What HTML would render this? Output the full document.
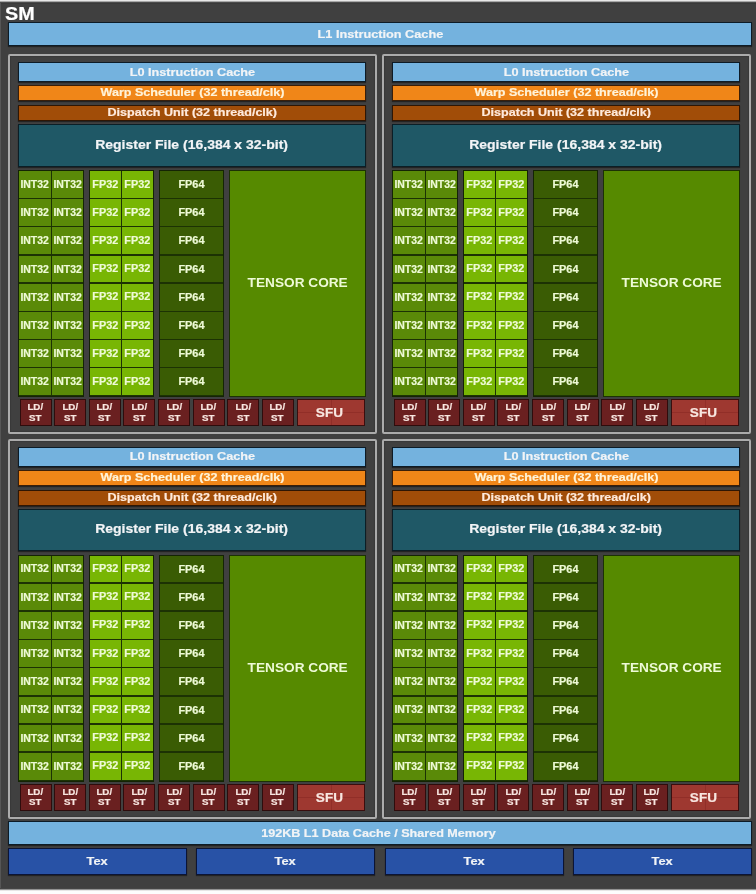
<!DOCTYPE html>
<html><head><meta charset="utf-8"><title>SM</title><style>
*{margin:0;padding:0;box-sizing:border-box}
html,body{width:756px;height:894px;overflow:hidden;background:#404040}
body{position:relative;font-family:"Liberation Sans",Arial,sans-serif;font-weight:bold}
div{position:absolute}
#w{left:0;top:0;width:756px;height:894px;background:#404040}
.ledge{left:0;top:3px;width:1px;height:885px;background:#565656}
.topstrip{left:0;top:0;width:756px;height:4px;background:linear-gradient(to bottom,#e8e8e8 0,#e8e8e8 1px,#a8a8a8 1px,#a8a8a8 2px,#4c4c4c 2px,#4c4c4c 3px,#3a3a3a 3px)}
.botstrip{left:0;top:888px;width:756px;height:6px;background:linear-gradient(to bottom,#454545 0,#454545 1px,#929292 1px,#929292 2px,#e6e6e6 2px,#e6e6e6 3px,#fdfdfd 3px)}
.pb{border:2px solid #ababab;border-radius:2px;box-shadow:inset 0 0 1px 1px rgba(0,0,0,.12)}
.bar{border:1px solid #0d1b26;box-shadow:0 1px 1px rgba(0,0,0,.45)}
.l1{background:#74b2de}
.l0{background:#74b2de}
.wp{background:#f08618;border-color:#3a1e08}
.dp{background:#a14d08;border-color:#2e1604}
.rf{background:#1f5866;border-color:#0b1e26}
.tx{background:#2852a6;border-color:#0b1436}
.grp{background:#1c3204;border:1px solid #142404}
.c{}
.ci{background:#5a8a08}
.cf{background:#78b604}
.cd{background:#3a5c04}
.tc{background:#568a00;border:1px solid #1c3204}
.ls{background:#6a2020;border:1px solid #2e0c0c}
.sfl{background:rgba(120,30,25,.35)}
.sfu{background:#9e3830;border:1px solid #3a0e0e}
.t{-webkit-text-stroke:0.2px currentColor;display:flex;align-items:center;justify-content:center;white-space:nowrap}
.t span{display:inline-block;text-align:center}
.f11{font-size:11px}
.f13{font-size:13px}
.f10{font-size:10px}
.f95{font-size:9.5px}
.f9{font-size:9px;line-height:10.5px}
.f125{font-size:12.5px}
.cw{color:#f2f4f6}
.cg{color:#eefad6}
.cwp{color:#fff3d8}
.cdp{color:#ffeadc}
.cp{color:#f8e6e0}
.nst{-webkit-text-stroke:0}
.sm{font-size:19px;color:#fff}
</style></head><body>
<div id="w">
<div class="topstrip"></div><div class="ledge"></div>
<div class="botstrip"></div>
<div class="t sm" style="left:4.8px;top:2.6px;width:40px;height:22px;justify-content:flex-start"><span style="transform:scaleX(1.04);transform-origin:0 50%">SM</span></div>
<div class="bar l1" style="left:8px;top:21.5px;width:744px;height:24px;"></div>
<div class="t f11 cw" style="left:8px;top:21.5px;width:744px;height:24px"><span style="transform:scaleX(1.155)">L1 Instruction Cache</span></div>
<div class="pb" style="left:8px;top:54px;width:369px;height:380px;"></div>
<div class="bar l0" style="left:18px;top:62px;width:348px;height:20px;"></div>
<div class="t f11 cw" style="left:18px;top:62px;width:348px;height:19px"><span style="transform:scaleX(1.152)">L0 Instruction Cache</span></div>
<div class="bar wp" style="left:18px;top:85px;width:348px;height:16px;"></div>
<div class="t f11 cwp" style="left:18px;top:84.3px;width:348px;height:16px"><span style="transform:scaleX(1.143)">Warp Scheduler (32 thread/clk)</span></div>
<div class="bar dp" style="left:18px;top:105px;width:348px;height:16px;"></div>
<div class="t f11 cdp" style="left:18px;top:104.3px;width:348px;height:16px"><span style="transform:scaleX(1.141)">Dispatch Unit (32 thread/clk)</span></div>
<div class="bar rf" style="left:18px;top:124px;width:348px;height:42.6px;"></div>
<div class="t f13 cw" style="left:18px;top:123px;width:348px;height:42.6px"><span style="transform:scaleX(1.076)">Register File (16,384 x 32-bit)</span></div>
<div class="grp gi" style="left:18px;top:170px;width:66px;height:227px;"></div>
<div class="grp gf" style="left:89px;top:170px;width:65px;height:227px;"></div>
<div class="grp gd" style="left:159px;top:170px;width:65px;height:227px;"></div>
<div class="c ci" style="left:19px;top:171.0px;width:32px;height:26.8px;"></div>
<div class="t f10 cg" style="left:19px;top:171.1px;width:32px;height:26.8px"><span style="transform:scaleX(1.045);font-size:10px">INT32</span></div>
<div class="c ci" style="left:52px;top:171.0px;width:31px;height:26.8px;"></div>
<div class="t f10 cg" style="left:52px;top:171.1px;width:31px;height:26.8px"><span style="transform:scaleX(1.045);font-size:10px">INT32</span></div>
<div class="c cf" style="left:90px;top:171.0px;width:31px;height:26.8px;"></div>
<div class="t f10 cg" style="left:89.5px;top:170.7px;width:31px;height:26.8px"><span style="transform:scaleX(1.055);font-size:10.3px">FP32</span></div>
<div class="c cf" style="left:122px;top:171.0px;width:31px;height:26.8px;"></div>
<div class="t f10 cg" style="left:121.5px;top:170.7px;width:31px;height:26.8px"><span style="transform:scaleX(1.055);font-size:10.3px">FP32</span></div>
<div class="c cd" style="left:160px;top:171.0px;width:63px;height:26.8px;"></div>
<div class="t f10 cg" style="left:159.5px;top:171.2px;width:63px;height:26.8px"><span style="transform:scaleX(1.05);font-size:10.4px">FP64</span></div>
<div class="c ci" style="left:19px;top:199.2px;width:32px;height:26.8px;"></div>
<div class="t f10 cg" style="left:19px;top:199.3px;width:32px;height:26.8px"><span style="transform:scaleX(1.045);font-size:10px">INT32</span></div>
<div class="c ci" style="left:52px;top:199.2px;width:31px;height:26.8px;"></div>
<div class="t f10 cg" style="left:52px;top:199.3px;width:31px;height:26.8px"><span style="transform:scaleX(1.045);font-size:10px">INT32</span></div>
<div class="c cf" style="left:90px;top:199.2px;width:31px;height:26.8px;"></div>
<div class="t f10 cg" style="left:89.5px;top:198.9px;width:31px;height:26.8px"><span style="transform:scaleX(1.055);font-size:10.3px">FP32</span></div>
<div class="c cf" style="left:122px;top:199.2px;width:31px;height:26.8px;"></div>
<div class="t f10 cg" style="left:121.5px;top:198.9px;width:31px;height:26.8px"><span style="transform:scaleX(1.055);font-size:10.3px">FP32</span></div>
<div class="c cd" style="left:160px;top:199.2px;width:63px;height:26.8px;"></div>
<div class="t f10 cg" style="left:159.5px;top:199.4px;width:63px;height:26.8px"><span style="transform:scaleX(1.05);font-size:10.4px">FP64</span></div>
<div class="c ci" style="left:19px;top:227.4px;width:32px;height:26.8px;"></div>
<div class="t f10 cg" style="left:19px;top:227.5px;width:32px;height:26.8px"><span style="transform:scaleX(1.045);font-size:10px">INT32</span></div>
<div class="c ci" style="left:52px;top:227.4px;width:31px;height:26.8px;"></div>
<div class="t f10 cg" style="left:52px;top:227.5px;width:31px;height:26.8px"><span style="transform:scaleX(1.045);font-size:10px">INT32</span></div>
<div class="c cf" style="left:90px;top:227.4px;width:31px;height:26.8px;"></div>
<div class="t f10 cg" style="left:89.5px;top:227.1px;width:31px;height:26.8px"><span style="transform:scaleX(1.055);font-size:10.3px">FP32</span></div>
<div class="c cf" style="left:122px;top:227.4px;width:31px;height:26.8px;"></div>
<div class="t f10 cg" style="left:121.5px;top:227.1px;width:31px;height:26.8px"><span style="transform:scaleX(1.055);font-size:10.3px">FP32</span></div>
<div class="c cd" style="left:160px;top:227.4px;width:63px;height:26.8px;"></div>
<div class="t f10 cg" style="left:159.5px;top:227.6px;width:63px;height:26.8px"><span style="transform:scaleX(1.05);font-size:10.4px">FP64</span></div>
<div class="c ci" style="left:19px;top:255.6px;width:32px;height:26.8px;"></div>
<div class="t f10 cg" style="left:19px;top:255.7px;width:32px;height:26.8px"><span style="transform:scaleX(1.045);font-size:10px">INT32</span></div>
<div class="c ci" style="left:52px;top:255.6px;width:31px;height:26.8px;"></div>
<div class="t f10 cg" style="left:52px;top:255.7px;width:31px;height:26.8px"><span style="transform:scaleX(1.045);font-size:10px">INT32</span></div>
<div class="c cf" style="left:90px;top:255.6px;width:31px;height:26.8px;"></div>
<div class="t f10 cg" style="left:89.5px;top:255.3px;width:31px;height:26.8px"><span style="transform:scaleX(1.055);font-size:10.3px">FP32</span></div>
<div class="c cf" style="left:122px;top:255.6px;width:31px;height:26.8px;"></div>
<div class="t f10 cg" style="left:121.5px;top:255.3px;width:31px;height:26.8px"><span style="transform:scaleX(1.055);font-size:10.3px">FP32</span></div>
<div class="c cd" style="left:160px;top:255.6px;width:63px;height:26.8px;"></div>
<div class="t f10 cg" style="left:159.5px;top:255.8px;width:63px;height:26.8px"><span style="transform:scaleX(1.05);font-size:10.4px">FP64</span></div>
<div class="c ci" style="left:19px;top:283.8px;width:32px;height:26.8px;"></div>
<div class="t f10 cg" style="left:19px;top:283.9px;width:32px;height:26.8px"><span style="transform:scaleX(1.045);font-size:10px">INT32</span></div>
<div class="c ci" style="left:52px;top:283.8px;width:31px;height:26.8px;"></div>
<div class="t f10 cg" style="left:52px;top:283.9px;width:31px;height:26.8px"><span style="transform:scaleX(1.045);font-size:10px">INT32</span></div>
<div class="c cf" style="left:90px;top:283.8px;width:31px;height:26.8px;"></div>
<div class="t f10 cg" style="left:89.5px;top:283.5px;width:31px;height:26.8px"><span style="transform:scaleX(1.055);font-size:10.3px">FP32</span></div>
<div class="c cf" style="left:122px;top:283.8px;width:31px;height:26.8px;"></div>
<div class="t f10 cg" style="left:121.5px;top:283.5px;width:31px;height:26.8px"><span style="transform:scaleX(1.055);font-size:10.3px">FP32</span></div>
<div class="c cd" style="left:160px;top:283.8px;width:63px;height:26.8px;"></div>
<div class="t f10 cg" style="left:159.5px;top:284.0px;width:63px;height:26.8px"><span style="transform:scaleX(1.05);font-size:10.4px">FP64</span></div>
<div class="c ci" style="left:19px;top:312.0px;width:32px;height:26.8px;"></div>
<div class="t f10 cg" style="left:19px;top:312.1px;width:32px;height:26.8px"><span style="transform:scaleX(1.045);font-size:10px">INT32</span></div>
<div class="c ci" style="left:52px;top:312.0px;width:31px;height:26.8px;"></div>
<div class="t f10 cg" style="left:52px;top:312.1px;width:31px;height:26.8px"><span style="transform:scaleX(1.045);font-size:10px">INT32</span></div>
<div class="c cf" style="left:90px;top:312.0px;width:31px;height:26.8px;"></div>
<div class="t f10 cg" style="left:89.5px;top:311.7px;width:31px;height:26.8px"><span style="transform:scaleX(1.055);font-size:10.3px">FP32</span></div>
<div class="c cf" style="left:122px;top:312.0px;width:31px;height:26.8px;"></div>
<div class="t f10 cg" style="left:121.5px;top:311.7px;width:31px;height:26.8px"><span style="transform:scaleX(1.055);font-size:10.3px">FP32</span></div>
<div class="c cd" style="left:160px;top:312.0px;width:63px;height:26.8px;"></div>
<div class="t f10 cg" style="left:159.5px;top:312.2px;width:63px;height:26.8px"><span style="transform:scaleX(1.05);font-size:10.4px">FP64</span></div>
<div class="c ci" style="left:19px;top:340.2px;width:32px;height:26.8px;"></div>
<div class="t f10 cg" style="left:19px;top:340.3px;width:32px;height:26.8px"><span style="transform:scaleX(1.045);font-size:10px">INT32</span></div>
<div class="c ci" style="left:52px;top:340.2px;width:31px;height:26.8px;"></div>
<div class="t f10 cg" style="left:52px;top:340.3px;width:31px;height:26.8px"><span style="transform:scaleX(1.045);font-size:10px">INT32</span></div>
<div class="c cf" style="left:90px;top:340.2px;width:31px;height:26.8px;"></div>
<div class="t f10 cg" style="left:89.5px;top:339.9px;width:31px;height:26.8px"><span style="transform:scaleX(1.055);font-size:10.3px">FP32</span></div>
<div class="c cf" style="left:122px;top:340.2px;width:31px;height:26.8px;"></div>
<div class="t f10 cg" style="left:121.5px;top:339.9px;width:31px;height:26.8px"><span style="transform:scaleX(1.055);font-size:10.3px">FP32</span></div>
<div class="c cd" style="left:160px;top:340.2px;width:63px;height:26.8px;"></div>
<div class="t f10 cg" style="left:159.5px;top:340.4px;width:63px;height:26.8px"><span style="transform:scaleX(1.05);font-size:10.4px">FP64</span></div>
<div class="c ci" style="left:19px;top:368.4px;width:32px;height:26.8px;"></div>
<div class="t f10 cg" style="left:19px;top:368.5px;width:32px;height:26.8px"><span style="transform:scaleX(1.045);font-size:10px">INT32</span></div>
<div class="c ci" style="left:52px;top:368.4px;width:31px;height:26.8px;"></div>
<div class="t f10 cg" style="left:52px;top:368.5px;width:31px;height:26.8px"><span style="transform:scaleX(1.045);font-size:10px">INT32</span></div>
<div class="c cf" style="left:90px;top:368.4px;width:31px;height:26.8px;"></div>
<div class="t f10 cg" style="left:89.5px;top:368.1px;width:31px;height:26.8px"><span style="transform:scaleX(1.055);font-size:10.3px">FP32</span></div>
<div class="c cf" style="left:122px;top:368.4px;width:31px;height:26.8px;"></div>
<div class="t f10 cg" style="left:121.5px;top:368.1px;width:31px;height:26.8px"><span style="transform:scaleX(1.055);font-size:10.3px">FP32</span></div>
<div class="c cd" style="left:160px;top:368.4px;width:63px;height:26.8px;"></div>
<div class="t f10 cg" style="left:159.5px;top:368.6px;width:63px;height:26.8px"><span style="transform:scaleX(1.05);font-size:10.4px">FP64</span></div>
<div class="tc" style="left:229px;top:170px;width:137px;height:227px;"></div>
<div class="t f13 cg nst" style="left:229px;top:169px;width:137px;height:227px"><span style="transform:scaleX(1.05)">TENSOR CORE</span></div>
<div class="ls" style="left:19.5px;top:399px;width:32px;height:27px;"></div>
<div class="t f9 cp ls2" style="left:19.5px;top:399px;width:32px;height:27px"><span style="transform:scaleX(1.08)">LD/<br>ST</span></div>
<div class="ls" style="left:54.1px;top:399px;width:32px;height:27px;"></div>
<div class="t f9 cp ls2" style="left:54.1px;top:399px;width:32px;height:27px"><span style="transform:scaleX(1.08)">LD/<br>ST</span></div>
<div class="ls" style="left:88.7px;top:399px;width:32px;height:27px;"></div>
<div class="t f9 cp ls2" style="left:88.7px;top:399px;width:32px;height:27px"><span style="transform:scaleX(1.08)">LD/<br>ST</span></div>
<div class="ls" style="left:123.3px;top:399px;width:32px;height:27px;"></div>
<div class="t f9 cp ls2" style="left:123.3px;top:399px;width:32px;height:27px"><span style="transform:scaleX(1.08)">LD/<br>ST</span></div>
<div class="ls" style="left:157.9px;top:399px;width:32px;height:27px;"></div>
<div class="t f9 cp ls2" style="left:157.9px;top:399px;width:32px;height:27px"><span style="transform:scaleX(1.08)">LD/<br>ST</span></div>
<div class="ls" style="left:192.5px;top:399px;width:32px;height:27px;"></div>
<div class="t f9 cp ls2" style="left:192.5px;top:399px;width:32px;height:27px"><span style="transform:scaleX(1.08)">LD/<br>ST</span></div>
<div class="ls" style="left:227.1px;top:399px;width:32px;height:27px;"></div>
<div class="t f9 cp ls2" style="left:227.1px;top:399px;width:32px;height:27px"><span style="transform:scaleX(1.08)">LD/<br>ST</span></div>
<div class="ls" style="left:261.7px;top:399px;width:32px;height:27px;"></div>
<div class="t f9 cp ls2" style="left:261.7px;top:399px;width:32px;height:27px"><span style="transform:scaleX(1.08)">LD/<br>ST</span></div>
<div class="sfu" style="left:296.5px;top:399px;width:68px;height:27px;"></div>
<div class="sfl" style="left:331px;top:400px;width:1px;height:25px;"></div>
<div class="sfl" style="left:297.5px;top:412px;width:66px;height:1px;"></div>
<div class="t f13 cp" style="left:295.0px;top:399px;width:69px;height:27px"><span style="transform:scaleX(1.01);font-size:13.4px">SFU</span></div>
<div class="pb" style="left:382px;top:54px;width:369px;height:380px;"></div>
<div class="bar l0" style="left:392px;top:62px;width:348px;height:20px;"></div>
<div class="t f11 cw" style="left:392px;top:62px;width:348px;height:19px"><span style="transform:scaleX(1.152)">L0 Instruction Cache</span></div>
<div class="bar wp" style="left:392px;top:85px;width:348px;height:16px;"></div>
<div class="t f11 cwp" style="left:392px;top:84.3px;width:348px;height:16px"><span style="transform:scaleX(1.143)">Warp Scheduler (32 thread/clk)</span></div>
<div class="bar dp" style="left:392px;top:105px;width:348px;height:16px;"></div>
<div class="t f11 cdp" style="left:392px;top:104.3px;width:348px;height:16px"><span style="transform:scaleX(1.141)">Dispatch Unit (32 thread/clk)</span></div>
<div class="bar rf" style="left:392px;top:124px;width:348px;height:42.6px;"></div>
<div class="t f13 cw" style="left:392px;top:123px;width:348px;height:42.6px"><span style="transform:scaleX(1.076)">Register File (16,384 x 32-bit)</span></div>
<div class="grp gi" style="left:392px;top:170px;width:66px;height:227px;"></div>
<div class="grp gf" style="left:463px;top:170px;width:65px;height:227px;"></div>
<div class="grp gd" style="left:533px;top:170px;width:65px;height:227px;"></div>
<div class="c ci" style="left:393px;top:171.0px;width:32px;height:26.8px;"></div>
<div class="t f10 cg" style="left:393px;top:171.1px;width:32px;height:26.8px"><span style="transform:scaleX(1.045);font-size:10px">INT32</span></div>
<div class="c ci" style="left:426px;top:171.0px;width:31px;height:26.8px;"></div>
<div class="t f10 cg" style="left:426px;top:171.1px;width:31px;height:26.8px"><span style="transform:scaleX(1.045);font-size:10px">INT32</span></div>
<div class="c cf" style="left:464px;top:171.0px;width:31px;height:26.8px;"></div>
<div class="t f10 cg" style="left:463.5px;top:170.7px;width:31px;height:26.8px"><span style="transform:scaleX(1.055);font-size:10.3px">FP32</span></div>
<div class="c cf" style="left:496px;top:171.0px;width:31px;height:26.8px;"></div>
<div class="t f10 cg" style="left:495.5px;top:170.7px;width:31px;height:26.8px"><span style="transform:scaleX(1.055);font-size:10.3px">FP32</span></div>
<div class="c cd" style="left:534px;top:171.0px;width:63px;height:26.8px;"></div>
<div class="t f10 cg" style="left:533.5px;top:171.2px;width:63px;height:26.8px"><span style="transform:scaleX(1.05);font-size:10.4px">FP64</span></div>
<div class="c ci" style="left:393px;top:199.2px;width:32px;height:26.8px;"></div>
<div class="t f10 cg" style="left:393px;top:199.3px;width:32px;height:26.8px"><span style="transform:scaleX(1.045);font-size:10px">INT32</span></div>
<div class="c ci" style="left:426px;top:199.2px;width:31px;height:26.8px;"></div>
<div class="t f10 cg" style="left:426px;top:199.3px;width:31px;height:26.8px"><span style="transform:scaleX(1.045);font-size:10px">INT32</span></div>
<div class="c cf" style="left:464px;top:199.2px;width:31px;height:26.8px;"></div>
<div class="t f10 cg" style="left:463.5px;top:198.9px;width:31px;height:26.8px"><span style="transform:scaleX(1.055);font-size:10.3px">FP32</span></div>
<div class="c cf" style="left:496px;top:199.2px;width:31px;height:26.8px;"></div>
<div class="t f10 cg" style="left:495.5px;top:198.9px;width:31px;height:26.8px"><span style="transform:scaleX(1.055);font-size:10.3px">FP32</span></div>
<div class="c cd" style="left:534px;top:199.2px;width:63px;height:26.8px;"></div>
<div class="t f10 cg" style="left:533.5px;top:199.4px;width:63px;height:26.8px"><span style="transform:scaleX(1.05);font-size:10.4px">FP64</span></div>
<div class="c ci" style="left:393px;top:227.4px;width:32px;height:26.8px;"></div>
<div class="t f10 cg" style="left:393px;top:227.5px;width:32px;height:26.8px"><span style="transform:scaleX(1.045);font-size:10px">INT32</span></div>
<div class="c ci" style="left:426px;top:227.4px;width:31px;height:26.8px;"></div>
<div class="t f10 cg" style="left:426px;top:227.5px;width:31px;height:26.8px"><span style="transform:scaleX(1.045);font-size:10px">INT32</span></div>
<div class="c cf" style="left:464px;top:227.4px;width:31px;height:26.8px;"></div>
<div class="t f10 cg" style="left:463.5px;top:227.1px;width:31px;height:26.8px"><span style="transform:scaleX(1.055);font-size:10.3px">FP32</span></div>
<div class="c cf" style="left:496px;top:227.4px;width:31px;height:26.8px;"></div>
<div class="t f10 cg" style="left:495.5px;top:227.1px;width:31px;height:26.8px"><span style="transform:scaleX(1.055);font-size:10.3px">FP32</span></div>
<div class="c cd" style="left:534px;top:227.4px;width:63px;height:26.8px;"></div>
<div class="t f10 cg" style="left:533.5px;top:227.6px;width:63px;height:26.8px"><span style="transform:scaleX(1.05);font-size:10.4px">FP64</span></div>
<div class="c ci" style="left:393px;top:255.6px;width:32px;height:26.8px;"></div>
<div class="t f10 cg" style="left:393px;top:255.7px;width:32px;height:26.8px"><span style="transform:scaleX(1.045);font-size:10px">INT32</span></div>
<div class="c ci" style="left:426px;top:255.6px;width:31px;height:26.8px;"></div>
<div class="t f10 cg" style="left:426px;top:255.7px;width:31px;height:26.8px"><span style="transform:scaleX(1.045);font-size:10px">INT32</span></div>
<div class="c cf" style="left:464px;top:255.6px;width:31px;height:26.8px;"></div>
<div class="t f10 cg" style="left:463.5px;top:255.3px;width:31px;height:26.8px"><span style="transform:scaleX(1.055);font-size:10.3px">FP32</span></div>
<div class="c cf" style="left:496px;top:255.6px;width:31px;height:26.8px;"></div>
<div class="t f10 cg" style="left:495.5px;top:255.3px;width:31px;height:26.8px"><span style="transform:scaleX(1.055);font-size:10.3px">FP32</span></div>
<div class="c cd" style="left:534px;top:255.6px;width:63px;height:26.8px;"></div>
<div class="t f10 cg" style="left:533.5px;top:255.8px;width:63px;height:26.8px"><span style="transform:scaleX(1.05);font-size:10.4px">FP64</span></div>
<div class="c ci" style="left:393px;top:283.8px;width:32px;height:26.8px;"></div>
<div class="t f10 cg" style="left:393px;top:283.9px;width:32px;height:26.8px"><span style="transform:scaleX(1.045);font-size:10px">INT32</span></div>
<div class="c ci" style="left:426px;top:283.8px;width:31px;height:26.8px;"></div>
<div class="t f10 cg" style="left:426px;top:283.9px;width:31px;height:26.8px"><span style="transform:scaleX(1.045);font-size:10px">INT32</span></div>
<div class="c cf" style="left:464px;top:283.8px;width:31px;height:26.8px;"></div>
<div class="t f10 cg" style="left:463.5px;top:283.5px;width:31px;height:26.8px"><span style="transform:scaleX(1.055);font-size:10.3px">FP32</span></div>
<div class="c cf" style="left:496px;top:283.8px;width:31px;height:26.8px;"></div>
<div class="t f10 cg" style="left:495.5px;top:283.5px;width:31px;height:26.8px"><span style="transform:scaleX(1.055);font-size:10.3px">FP32</span></div>
<div class="c cd" style="left:534px;top:283.8px;width:63px;height:26.8px;"></div>
<div class="t f10 cg" style="left:533.5px;top:284.0px;width:63px;height:26.8px"><span style="transform:scaleX(1.05);font-size:10.4px">FP64</span></div>
<div class="c ci" style="left:393px;top:312.0px;width:32px;height:26.8px;"></div>
<div class="t f10 cg" style="left:393px;top:312.1px;width:32px;height:26.8px"><span style="transform:scaleX(1.045);font-size:10px">INT32</span></div>
<div class="c ci" style="left:426px;top:312.0px;width:31px;height:26.8px;"></div>
<div class="t f10 cg" style="left:426px;top:312.1px;width:31px;height:26.8px"><span style="transform:scaleX(1.045);font-size:10px">INT32</span></div>
<div class="c cf" style="left:464px;top:312.0px;width:31px;height:26.8px;"></div>
<div class="t f10 cg" style="left:463.5px;top:311.7px;width:31px;height:26.8px"><span style="transform:scaleX(1.055);font-size:10.3px">FP32</span></div>
<div class="c cf" style="left:496px;top:312.0px;width:31px;height:26.8px;"></div>
<div class="t f10 cg" style="left:495.5px;top:311.7px;width:31px;height:26.8px"><span style="transform:scaleX(1.055);font-size:10.3px">FP32</span></div>
<div class="c cd" style="left:534px;top:312.0px;width:63px;height:26.8px;"></div>
<div class="t f10 cg" style="left:533.5px;top:312.2px;width:63px;height:26.8px"><span style="transform:scaleX(1.05);font-size:10.4px">FP64</span></div>
<div class="c ci" style="left:393px;top:340.2px;width:32px;height:26.8px;"></div>
<div class="t f10 cg" style="left:393px;top:340.3px;width:32px;height:26.8px"><span style="transform:scaleX(1.045);font-size:10px">INT32</span></div>
<div class="c ci" style="left:426px;top:340.2px;width:31px;height:26.8px;"></div>
<div class="t f10 cg" style="left:426px;top:340.3px;width:31px;height:26.8px"><span style="transform:scaleX(1.045);font-size:10px">INT32</span></div>
<div class="c cf" style="left:464px;top:340.2px;width:31px;height:26.8px;"></div>
<div class="t f10 cg" style="left:463.5px;top:339.9px;width:31px;height:26.8px"><span style="transform:scaleX(1.055);font-size:10.3px">FP32</span></div>
<div class="c cf" style="left:496px;top:340.2px;width:31px;height:26.8px;"></div>
<div class="t f10 cg" style="left:495.5px;top:339.9px;width:31px;height:26.8px"><span style="transform:scaleX(1.055);font-size:10.3px">FP32</span></div>
<div class="c cd" style="left:534px;top:340.2px;width:63px;height:26.8px;"></div>
<div class="t f10 cg" style="left:533.5px;top:340.4px;width:63px;height:26.8px"><span style="transform:scaleX(1.05);font-size:10.4px">FP64</span></div>
<div class="c ci" style="left:393px;top:368.4px;width:32px;height:26.8px;"></div>
<div class="t f10 cg" style="left:393px;top:368.5px;width:32px;height:26.8px"><span style="transform:scaleX(1.045);font-size:10px">INT32</span></div>
<div class="c ci" style="left:426px;top:368.4px;width:31px;height:26.8px;"></div>
<div class="t f10 cg" style="left:426px;top:368.5px;width:31px;height:26.8px"><span style="transform:scaleX(1.045);font-size:10px">INT32</span></div>
<div class="c cf" style="left:464px;top:368.4px;width:31px;height:26.8px;"></div>
<div class="t f10 cg" style="left:463.5px;top:368.1px;width:31px;height:26.8px"><span style="transform:scaleX(1.055);font-size:10.3px">FP32</span></div>
<div class="c cf" style="left:496px;top:368.4px;width:31px;height:26.8px;"></div>
<div class="t f10 cg" style="left:495.5px;top:368.1px;width:31px;height:26.8px"><span style="transform:scaleX(1.055);font-size:10.3px">FP32</span></div>
<div class="c cd" style="left:534px;top:368.4px;width:63px;height:26.8px;"></div>
<div class="t f10 cg" style="left:533.5px;top:368.6px;width:63px;height:26.8px"><span style="transform:scaleX(1.05);font-size:10.4px">FP64</span></div>
<div class="tc" style="left:603px;top:170px;width:137px;height:227px;"></div>
<div class="t f13 cg nst" style="left:603px;top:169px;width:137px;height:227px"><span style="transform:scaleX(1.05)">TENSOR CORE</span></div>
<div class="ls" style="left:393.5px;top:399px;width:32px;height:27px;"></div>
<div class="t f9 cp ls2" style="left:393.5px;top:399px;width:32px;height:27px"><span style="transform:scaleX(1.08)">LD/<br>ST</span></div>
<div class="ls" style="left:428.1px;top:399px;width:32px;height:27px;"></div>
<div class="t f9 cp ls2" style="left:428.1px;top:399px;width:32px;height:27px"><span style="transform:scaleX(1.08)">LD/<br>ST</span></div>
<div class="ls" style="left:462.7px;top:399px;width:32px;height:27px;"></div>
<div class="t f9 cp ls2" style="left:462.7px;top:399px;width:32px;height:27px"><span style="transform:scaleX(1.08)">LD/<br>ST</span></div>
<div class="ls" style="left:497.3px;top:399px;width:32px;height:27px;"></div>
<div class="t f9 cp ls2" style="left:497.3px;top:399px;width:32px;height:27px"><span style="transform:scaleX(1.08)">LD/<br>ST</span></div>
<div class="ls" style="left:531.9px;top:399px;width:32px;height:27px;"></div>
<div class="t f9 cp ls2" style="left:531.9px;top:399px;width:32px;height:27px"><span style="transform:scaleX(1.08)">LD/<br>ST</span></div>
<div class="ls" style="left:566.5px;top:399px;width:32px;height:27px;"></div>
<div class="t f9 cp ls2" style="left:566.5px;top:399px;width:32px;height:27px"><span style="transform:scaleX(1.08)">LD/<br>ST</span></div>
<div class="ls" style="left:601.1px;top:399px;width:32px;height:27px;"></div>
<div class="t f9 cp ls2" style="left:601.1px;top:399px;width:32px;height:27px"><span style="transform:scaleX(1.08)">LD/<br>ST</span></div>
<div class="ls" style="left:635.7px;top:399px;width:32px;height:27px;"></div>
<div class="t f9 cp ls2" style="left:635.7px;top:399px;width:32px;height:27px"><span style="transform:scaleX(1.08)">LD/<br>ST</span></div>
<div class="sfu" style="left:670.5px;top:399px;width:68px;height:27px;"></div>
<div class="sfl" style="left:705px;top:400px;width:1px;height:25px;"></div>
<div class="sfl" style="left:671.5px;top:412px;width:66px;height:1px;"></div>
<div class="t f13 cp" style="left:669.0px;top:399px;width:69px;height:27px"><span style="transform:scaleX(1.01);font-size:13.4px">SFU</span></div>
<div class="pb" style="left:8px;top:438.5px;width:369px;height:380px;"></div>
<div class="bar l0" style="left:18px;top:446.5px;width:348px;height:20px;"></div>
<div class="t f11 cw" style="left:18px;top:446.5px;width:348px;height:19px"><span style="transform:scaleX(1.152)">L0 Instruction Cache</span></div>
<div class="bar wp" style="left:18px;top:469.5px;width:348px;height:16px;"></div>
<div class="t f11 cwp" style="left:18px;top:468.8px;width:348px;height:16px"><span style="transform:scaleX(1.143)">Warp Scheduler (32 thread/clk)</span></div>
<div class="bar dp" style="left:18px;top:489.5px;width:348px;height:16px;"></div>
<div class="t f11 cdp" style="left:18px;top:488.8px;width:348px;height:16px"><span style="transform:scaleX(1.141)">Dispatch Unit (32 thread/clk)</span></div>
<div class="bar rf" style="left:18px;top:508.5px;width:348px;height:42.6px;"></div>
<div class="t f13 cw" style="left:18px;top:507.5px;width:348px;height:42.6px"><span style="transform:scaleX(1.076)">Register File (16,384 x 32-bit)</span></div>
<div class="grp gi" style="left:18px;top:554.5px;width:66px;height:227px;"></div>
<div class="grp gf" style="left:89px;top:554.5px;width:65px;height:227px;"></div>
<div class="grp gd" style="left:159px;top:554.5px;width:65px;height:227px;"></div>
<div class="c ci" style="left:19px;top:555.5px;width:32px;height:26.8px;"></div>
<div class="t f10 cg" style="left:19px;top:555.6px;width:32px;height:26.8px"><span style="transform:scaleX(1.045);font-size:10px">INT32</span></div>
<div class="c ci" style="left:52px;top:555.5px;width:31px;height:26.8px;"></div>
<div class="t f10 cg" style="left:52px;top:555.6px;width:31px;height:26.8px"><span style="transform:scaleX(1.045);font-size:10px">INT32</span></div>
<div class="c cf" style="left:90px;top:555.5px;width:31px;height:26.8px;"></div>
<div class="t f10 cg" style="left:89.5px;top:555.2px;width:31px;height:26.8px"><span style="transform:scaleX(1.055);font-size:10.3px">FP32</span></div>
<div class="c cf" style="left:122px;top:555.5px;width:31px;height:26.8px;"></div>
<div class="t f10 cg" style="left:121.5px;top:555.2px;width:31px;height:26.8px"><span style="transform:scaleX(1.055);font-size:10.3px">FP32</span></div>
<div class="c cd" style="left:160px;top:555.5px;width:63px;height:26.8px;"></div>
<div class="t f10 cg" style="left:159.5px;top:555.7px;width:63px;height:26.8px"><span style="transform:scaleX(1.05);font-size:10.4px">FP64</span></div>
<div class="c ci" style="left:19px;top:583.7px;width:32px;height:26.8px;"></div>
<div class="t f10 cg" style="left:19px;top:583.8px;width:32px;height:26.8px"><span style="transform:scaleX(1.045);font-size:10px">INT32</span></div>
<div class="c ci" style="left:52px;top:583.7px;width:31px;height:26.8px;"></div>
<div class="t f10 cg" style="left:52px;top:583.8px;width:31px;height:26.8px"><span style="transform:scaleX(1.045);font-size:10px">INT32</span></div>
<div class="c cf" style="left:90px;top:583.7px;width:31px;height:26.8px;"></div>
<div class="t f10 cg" style="left:89.5px;top:583.4px;width:31px;height:26.8px"><span style="transform:scaleX(1.055);font-size:10.3px">FP32</span></div>
<div class="c cf" style="left:122px;top:583.7px;width:31px;height:26.8px;"></div>
<div class="t f10 cg" style="left:121.5px;top:583.4px;width:31px;height:26.8px"><span style="transform:scaleX(1.055);font-size:10.3px">FP32</span></div>
<div class="c cd" style="left:160px;top:583.7px;width:63px;height:26.8px;"></div>
<div class="t f10 cg" style="left:159.5px;top:583.9px;width:63px;height:26.8px"><span style="transform:scaleX(1.05);font-size:10.4px">FP64</span></div>
<div class="c ci" style="left:19px;top:611.9px;width:32px;height:26.8px;"></div>
<div class="t f10 cg" style="left:19px;top:612.0px;width:32px;height:26.8px"><span style="transform:scaleX(1.045);font-size:10px">INT32</span></div>
<div class="c ci" style="left:52px;top:611.9px;width:31px;height:26.8px;"></div>
<div class="t f10 cg" style="left:52px;top:612.0px;width:31px;height:26.8px"><span style="transform:scaleX(1.045);font-size:10px">INT32</span></div>
<div class="c cf" style="left:90px;top:611.9px;width:31px;height:26.8px;"></div>
<div class="t f10 cg" style="left:89.5px;top:611.6px;width:31px;height:26.8px"><span style="transform:scaleX(1.055);font-size:10.3px">FP32</span></div>
<div class="c cf" style="left:122px;top:611.9px;width:31px;height:26.8px;"></div>
<div class="t f10 cg" style="left:121.5px;top:611.6px;width:31px;height:26.8px"><span style="transform:scaleX(1.055);font-size:10.3px">FP32</span></div>
<div class="c cd" style="left:160px;top:611.9px;width:63px;height:26.8px;"></div>
<div class="t f10 cg" style="left:159.5px;top:612.1px;width:63px;height:26.8px"><span style="transform:scaleX(1.05);font-size:10.4px">FP64</span></div>
<div class="c ci" style="left:19px;top:640.1px;width:32px;height:26.8px;"></div>
<div class="t f10 cg" style="left:19px;top:640.2px;width:32px;height:26.8px"><span style="transform:scaleX(1.045);font-size:10px">INT32</span></div>
<div class="c ci" style="left:52px;top:640.1px;width:31px;height:26.8px;"></div>
<div class="t f10 cg" style="left:52px;top:640.2px;width:31px;height:26.8px"><span style="transform:scaleX(1.045);font-size:10px">INT32</span></div>
<div class="c cf" style="left:90px;top:640.1px;width:31px;height:26.8px;"></div>
<div class="t f10 cg" style="left:89.5px;top:639.8px;width:31px;height:26.8px"><span style="transform:scaleX(1.055);font-size:10.3px">FP32</span></div>
<div class="c cf" style="left:122px;top:640.1px;width:31px;height:26.8px;"></div>
<div class="t f10 cg" style="left:121.5px;top:639.8px;width:31px;height:26.8px"><span style="transform:scaleX(1.055);font-size:10.3px">FP32</span></div>
<div class="c cd" style="left:160px;top:640.1px;width:63px;height:26.8px;"></div>
<div class="t f10 cg" style="left:159.5px;top:640.3px;width:63px;height:26.8px"><span style="transform:scaleX(1.05);font-size:10.4px">FP64</span></div>
<div class="c ci" style="left:19px;top:668.3px;width:32px;height:26.8px;"></div>
<div class="t f10 cg" style="left:19px;top:668.4px;width:32px;height:26.8px"><span style="transform:scaleX(1.045);font-size:10px">INT32</span></div>
<div class="c ci" style="left:52px;top:668.3px;width:31px;height:26.8px;"></div>
<div class="t f10 cg" style="left:52px;top:668.4px;width:31px;height:26.8px"><span style="transform:scaleX(1.045);font-size:10px">INT32</span></div>
<div class="c cf" style="left:90px;top:668.3px;width:31px;height:26.8px;"></div>
<div class="t f10 cg" style="left:89.5px;top:668.0px;width:31px;height:26.8px"><span style="transform:scaleX(1.055);font-size:10.3px">FP32</span></div>
<div class="c cf" style="left:122px;top:668.3px;width:31px;height:26.8px;"></div>
<div class="t f10 cg" style="left:121.5px;top:668.0px;width:31px;height:26.8px"><span style="transform:scaleX(1.055);font-size:10.3px">FP32</span></div>
<div class="c cd" style="left:160px;top:668.3px;width:63px;height:26.8px;"></div>
<div class="t f10 cg" style="left:159.5px;top:668.5px;width:63px;height:26.8px"><span style="transform:scaleX(1.05);font-size:10.4px">FP64</span></div>
<div class="c ci" style="left:19px;top:696.5px;width:32px;height:26.8px;"></div>
<div class="t f10 cg" style="left:19px;top:696.6px;width:32px;height:26.8px"><span style="transform:scaleX(1.045);font-size:10px">INT32</span></div>
<div class="c ci" style="left:52px;top:696.5px;width:31px;height:26.8px;"></div>
<div class="t f10 cg" style="left:52px;top:696.6px;width:31px;height:26.8px"><span style="transform:scaleX(1.045);font-size:10px">INT32</span></div>
<div class="c cf" style="left:90px;top:696.5px;width:31px;height:26.8px;"></div>
<div class="t f10 cg" style="left:89.5px;top:696.2px;width:31px;height:26.8px"><span style="transform:scaleX(1.055);font-size:10.3px">FP32</span></div>
<div class="c cf" style="left:122px;top:696.5px;width:31px;height:26.8px;"></div>
<div class="t f10 cg" style="left:121.5px;top:696.2px;width:31px;height:26.8px"><span style="transform:scaleX(1.055);font-size:10.3px">FP32</span></div>
<div class="c cd" style="left:160px;top:696.5px;width:63px;height:26.8px;"></div>
<div class="t f10 cg" style="left:159.5px;top:696.7px;width:63px;height:26.8px"><span style="transform:scaleX(1.05);font-size:10.4px">FP64</span></div>
<div class="c ci" style="left:19px;top:724.7px;width:32px;height:26.8px;"></div>
<div class="t f10 cg" style="left:19px;top:724.8px;width:32px;height:26.8px"><span style="transform:scaleX(1.045);font-size:10px">INT32</span></div>
<div class="c ci" style="left:52px;top:724.7px;width:31px;height:26.8px;"></div>
<div class="t f10 cg" style="left:52px;top:724.8px;width:31px;height:26.8px"><span style="transform:scaleX(1.045);font-size:10px">INT32</span></div>
<div class="c cf" style="left:90px;top:724.7px;width:31px;height:26.8px;"></div>
<div class="t f10 cg" style="left:89.5px;top:724.4px;width:31px;height:26.8px"><span style="transform:scaleX(1.055);font-size:10.3px">FP32</span></div>
<div class="c cf" style="left:122px;top:724.7px;width:31px;height:26.8px;"></div>
<div class="t f10 cg" style="left:121.5px;top:724.4px;width:31px;height:26.8px"><span style="transform:scaleX(1.055);font-size:10.3px">FP32</span></div>
<div class="c cd" style="left:160px;top:724.7px;width:63px;height:26.8px;"></div>
<div class="t f10 cg" style="left:159.5px;top:724.9px;width:63px;height:26.8px"><span style="transform:scaleX(1.05);font-size:10.4px">FP64</span></div>
<div class="c ci" style="left:19px;top:752.9px;width:32px;height:26.8px;"></div>
<div class="t f10 cg" style="left:19px;top:753.0px;width:32px;height:26.8px"><span style="transform:scaleX(1.045);font-size:10px">INT32</span></div>
<div class="c ci" style="left:52px;top:752.9px;width:31px;height:26.8px;"></div>
<div class="t f10 cg" style="left:52px;top:753.0px;width:31px;height:26.8px"><span style="transform:scaleX(1.045);font-size:10px">INT32</span></div>
<div class="c cf" style="left:90px;top:752.9px;width:31px;height:26.8px;"></div>
<div class="t f10 cg" style="left:89.5px;top:752.6px;width:31px;height:26.8px"><span style="transform:scaleX(1.055);font-size:10.3px">FP32</span></div>
<div class="c cf" style="left:122px;top:752.9px;width:31px;height:26.8px;"></div>
<div class="t f10 cg" style="left:121.5px;top:752.6px;width:31px;height:26.8px"><span style="transform:scaleX(1.055);font-size:10.3px">FP32</span></div>
<div class="c cd" style="left:160px;top:752.9px;width:63px;height:26.8px;"></div>
<div class="t f10 cg" style="left:159.5px;top:753.1px;width:63px;height:26.8px"><span style="transform:scaleX(1.05);font-size:10.4px">FP64</span></div>
<div class="tc" style="left:229px;top:554.5px;width:137px;height:227px;"></div>
<div class="t f13 cg nst" style="left:229px;top:553.5px;width:137px;height:227px"><span style="transform:scaleX(1.05)">TENSOR CORE</span></div>
<div class="ls" style="left:19.5px;top:783.5px;width:32px;height:27px;"></div>
<div class="t f9 cp ls2" style="left:19.5px;top:783.5px;width:32px;height:27px"><span style="transform:scaleX(1.08)">LD/<br>ST</span></div>
<div class="ls" style="left:54.1px;top:783.5px;width:32px;height:27px;"></div>
<div class="t f9 cp ls2" style="left:54.1px;top:783.5px;width:32px;height:27px"><span style="transform:scaleX(1.08)">LD/<br>ST</span></div>
<div class="ls" style="left:88.7px;top:783.5px;width:32px;height:27px;"></div>
<div class="t f9 cp ls2" style="left:88.7px;top:783.5px;width:32px;height:27px"><span style="transform:scaleX(1.08)">LD/<br>ST</span></div>
<div class="ls" style="left:123.3px;top:783.5px;width:32px;height:27px;"></div>
<div class="t f9 cp ls2" style="left:123.3px;top:783.5px;width:32px;height:27px"><span style="transform:scaleX(1.08)">LD/<br>ST</span></div>
<div class="ls" style="left:157.9px;top:783.5px;width:32px;height:27px;"></div>
<div class="t f9 cp ls2" style="left:157.9px;top:783.5px;width:32px;height:27px"><span style="transform:scaleX(1.08)">LD/<br>ST</span></div>
<div class="ls" style="left:192.5px;top:783.5px;width:32px;height:27px;"></div>
<div class="t f9 cp ls2" style="left:192.5px;top:783.5px;width:32px;height:27px"><span style="transform:scaleX(1.08)">LD/<br>ST</span></div>
<div class="ls" style="left:227.1px;top:783.5px;width:32px;height:27px;"></div>
<div class="t f9 cp ls2" style="left:227.1px;top:783.5px;width:32px;height:27px"><span style="transform:scaleX(1.08)">LD/<br>ST</span></div>
<div class="ls" style="left:261.7px;top:783.5px;width:32px;height:27px;"></div>
<div class="t f9 cp ls2" style="left:261.7px;top:783.5px;width:32px;height:27px"><span style="transform:scaleX(1.08)">LD/<br>ST</span></div>
<div class="sfu" style="left:296.5px;top:783.5px;width:68px;height:27px;"></div>
<div class="sfl" style="left:331px;top:784.5px;width:1px;height:25px;"></div>
<div class="sfl" style="left:297.5px;top:796.5px;width:66px;height:1px;"></div>
<div class="t f13 cp" style="left:295.0px;top:783.5px;width:69px;height:27px"><span style="transform:scaleX(1.01);font-size:13.4px">SFU</span></div>
<div class="pb" style="left:382px;top:438.5px;width:369px;height:380px;"></div>
<div class="bar l0" style="left:392px;top:446.5px;width:348px;height:20px;"></div>
<div class="t f11 cw" style="left:392px;top:446.5px;width:348px;height:19px"><span style="transform:scaleX(1.152)">L0 Instruction Cache</span></div>
<div class="bar wp" style="left:392px;top:469.5px;width:348px;height:16px;"></div>
<div class="t f11 cwp" style="left:392px;top:468.8px;width:348px;height:16px"><span style="transform:scaleX(1.143)">Warp Scheduler (32 thread/clk)</span></div>
<div class="bar dp" style="left:392px;top:489.5px;width:348px;height:16px;"></div>
<div class="t f11 cdp" style="left:392px;top:488.8px;width:348px;height:16px"><span style="transform:scaleX(1.141)">Dispatch Unit (32 thread/clk)</span></div>
<div class="bar rf" style="left:392px;top:508.5px;width:348px;height:42.6px;"></div>
<div class="t f13 cw" style="left:392px;top:507.5px;width:348px;height:42.6px"><span style="transform:scaleX(1.076)">Register File (16,384 x 32-bit)</span></div>
<div class="grp gi" style="left:392px;top:554.5px;width:66px;height:227px;"></div>
<div class="grp gf" style="left:463px;top:554.5px;width:65px;height:227px;"></div>
<div class="grp gd" style="left:533px;top:554.5px;width:65px;height:227px;"></div>
<div class="c ci" style="left:393px;top:555.5px;width:32px;height:26.8px;"></div>
<div class="t f10 cg" style="left:393px;top:555.6px;width:32px;height:26.8px"><span style="transform:scaleX(1.045);font-size:10px">INT32</span></div>
<div class="c ci" style="left:426px;top:555.5px;width:31px;height:26.8px;"></div>
<div class="t f10 cg" style="left:426px;top:555.6px;width:31px;height:26.8px"><span style="transform:scaleX(1.045);font-size:10px">INT32</span></div>
<div class="c cf" style="left:464px;top:555.5px;width:31px;height:26.8px;"></div>
<div class="t f10 cg" style="left:463.5px;top:555.2px;width:31px;height:26.8px"><span style="transform:scaleX(1.055);font-size:10.3px">FP32</span></div>
<div class="c cf" style="left:496px;top:555.5px;width:31px;height:26.8px;"></div>
<div class="t f10 cg" style="left:495.5px;top:555.2px;width:31px;height:26.8px"><span style="transform:scaleX(1.055);font-size:10.3px">FP32</span></div>
<div class="c cd" style="left:534px;top:555.5px;width:63px;height:26.8px;"></div>
<div class="t f10 cg" style="left:533.5px;top:555.7px;width:63px;height:26.8px"><span style="transform:scaleX(1.05);font-size:10.4px">FP64</span></div>
<div class="c ci" style="left:393px;top:583.7px;width:32px;height:26.8px;"></div>
<div class="t f10 cg" style="left:393px;top:583.8px;width:32px;height:26.8px"><span style="transform:scaleX(1.045);font-size:10px">INT32</span></div>
<div class="c ci" style="left:426px;top:583.7px;width:31px;height:26.8px;"></div>
<div class="t f10 cg" style="left:426px;top:583.8px;width:31px;height:26.8px"><span style="transform:scaleX(1.045);font-size:10px">INT32</span></div>
<div class="c cf" style="left:464px;top:583.7px;width:31px;height:26.8px;"></div>
<div class="t f10 cg" style="left:463.5px;top:583.4px;width:31px;height:26.8px"><span style="transform:scaleX(1.055);font-size:10.3px">FP32</span></div>
<div class="c cf" style="left:496px;top:583.7px;width:31px;height:26.8px;"></div>
<div class="t f10 cg" style="left:495.5px;top:583.4px;width:31px;height:26.8px"><span style="transform:scaleX(1.055);font-size:10.3px">FP32</span></div>
<div class="c cd" style="left:534px;top:583.7px;width:63px;height:26.8px;"></div>
<div class="t f10 cg" style="left:533.5px;top:583.9px;width:63px;height:26.8px"><span style="transform:scaleX(1.05);font-size:10.4px">FP64</span></div>
<div class="c ci" style="left:393px;top:611.9px;width:32px;height:26.8px;"></div>
<div class="t f10 cg" style="left:393px;top:612.0px;width:32px;height:26.8px"><span style="transform:scaleX(1.045);font-size:10px">INT32</span></div>
<div class="c ci" style="left:426px;top:611.9px;width:31px;height:26.8px;"></div>
<div class="t f10 cg" style="left:426px;top:612.0px;width:31px;height:26.8px"><span style="transform:scaleX(1.045);font-size:10px">INT32</span></div>
<div class="c cf" style="left:464px;top:611.9px;width:31px;height:26.8px;"></div>
<div class="t f10 cg" style="left:463.5px;top:611.6px;width:31px;height:26.8px"><span style="transform:scaleX(1.055);font-size:10.3px">FP32</span></div>
<div class="c cf" style="left:496px;top:611.9px;width:31px;height:26.8px;"></div>
<div class="t f10 cg" style="left:495.5px;top:611.6px;width:31px;height:26.8px"><span style="transform:scaleX(1.055);font-size:10.3px">FP32</span></div>
<div class="c cd" style="left:534px;top:611.9px;width:63px;height:26.8px;"></div>
<div class="t f10 cg" style="left:533.5px;top:612.1px;width:63px;height:26.8px"><span style="transform:scaleX(1.05);font-size:10.4px">FP64</span></div>
<div class="c ci" style="left:393px;top:640.1px;width:32px;height:26.8px;"></div>
<div class="t f10 cg" style="left:393px;top:640.2px;width:32px;height:26.8px"><span style="transform:scaleX(1.045);font-size:10px">INT32</span></div>
<div class="c ci" style="left:426px;top:640.1px;width:31px;height:26.8px;"></div>
<div class="t f10 cg" style="left:426px;top:640.2px;width:31px;height:26.8px"><span style="transform:scaleX(1.045);font-size:10px">INT32</span></div>
<div class="c cf" style="left:464px;top:640.1px;width:31px;height:26.8px;"></div>
<div class="t f10 cg" style="left:463.5px;top:639.8px;width:31px;height:26.8px"><span style="transform:scaleX(1.055);font-size:10.3px">FP32</span></div>
<div class="c cf" style="left:496px;top:640.1px;width:31px;height:26.8px;"></div>
<div class="t f10 cg" style="left:495.5px;top:639.8px;width:31px;height:26.8px"><span style="transform:scaleX(1.055);font-size:10.3px">FP32</span></div>
<div class="c cd" style="left:534px;top:640.1px;width:63px;height:26.8px;"></div>
<div class="t f10 cg" style="left:533.5px;top:640.3px;width:63px;height:26.8px"><span style="transform:scaleX(1.05);font-size:10.4px">FP64</span></div>
<div class="c ci" style="left:393px;top:668.3px;width:32px;height:26.8px;"></div>
<div class="t f10 cg" style="left:393px;top:668.4px;width:32px;height:26.8px"><span style="transform:scaleX(1.045);font-size:10px">INT32</span></div>
<div class="c ci" style="left:426px;top:668.3px;width:31px;height:26.8px;"></div>
<div class="t f10 cg" style="left:426px;top:668.4px;width:31px;height:26.8px"><span style="transform:scaleX(1.045);font-size:10px">INT32</span></div>
<div class="c cf" style="left:464px;top:668.3px;width:31px;height:26.8px;"></div>
<div class="t f10 cg" style="left:463.5px;top:668.0px;width:31px;height:26.8px"><span style="transform:scaleX(1.055);font-size:10.3px">FP32</span></div>
<div class="c cf" style="left:496px;top:668.3px;width:31px;height:26.8px;"></div>
<div class="t f10 cg" style="left:495.5px;top:668.0px;width:31px;height:26.8px"><span style="transform:scaleX(1.055);font-size:10.3px">FP32</span></div>
<div class="c cd" style="left:534px;top:668.3px;width:63px;height:26.8px;"></div>
<div class="t f10 cg" style="left:533.5px;top:668.5px;width:63px;height:26.8px"><span style="transform:scaleX(1.05);font-size:10.4px">FP64</span></div>
<div class="c ci" style="left:393px;top:696.5px;width:32px;height:26.8px;"></div>
<div class="t f10 cg" style="left:393px;top:696.6px;width:32px;height:26.8px"><span style="transform:scaleX(1.045);font-size:10px">INT32</span></div>
<div class="c ci" style="left:426px;top:696.5px;width:31px;height:26.8px;"></div>
<div class="t f10 cg" style="left:426px;top:696.6px;width:31px;height:26.8px"><span style="transform:scaleX(1.045);font-size:10px">INT32</span></div>
<div class="c cf" style="left:464px;top:696.5px;width:31px;height:26.8px;"></div>
<div class="t f10 cg" style="left:463.5px;top:696.2px;width:31px;height:26.8px"><span style="transform:scaleX(1.055);font-size:10.3px">FP32</span></div>
<div class="c cf" style="left:496px;top:696.5px;width:31px;height:26.8px;"></div>
<div class="t f10 cg" style="left:495.5px;top:696.2px;width:31px;height:26.8px"><span style="transform:scaleX(1.055);font-size:10.3px">FP32</span></div>
<div class="c cd" style="left:534px;top:696.5px;width:63px;height:26.8px;"></div>
<div class="t f10 cg" style="left:533.5px;top:696.7px;width:63px;height:26.8px"><span style="transform:scaleX(1.05);font-size:10.4px">FP64</span></div>
<div class="c ci" style="left:393px;top:724.7px;width:32px;height:26.8px;"></div>
<div class="t f10 cg" style="left:393px;top:724.8px;width:32px;height:26.8px"><span style="transform:scaleX(1.045);font-size:10px">INT32</span></div>
<div class="c ci" style="left:426px;top:724.7px;width:31px;height:26.8px;"></div>
<div class="t f10 cg" style="left:426px;top:724.8px;width:31px;height:26.8px"><span style="transform:scaleX(1.045);font-size:10px">INT32</span></div>
<div class="c cf" style="left:464px;top:724.7px;width:31px;height:26.8px;"></div>
<div class="t f10 cg" style="left:463.5px;top:724.4px;width:31px;height:26.8px"><span style="transform:scaleX(1.055);font-size:10.3px">FP32</span></div>
<div class="c cf" style="left:496px;top:724.7px;width:31px;height:26.8px;"></div>
<div class="t f10 cg" style="left:495.5px;top:724.4px;width:31px;height:26.8px"><span style="transform:scaleX(1.055);font-size:10.3px">FP32</span></div>
<div class="c cd" style="left:534px;top:724.7px;width:63px;height:26.8px;"></div>
<div class="t f10 cg" style="left:533.5px;top:724.9px;width:63px;height:26.8px"><span style="transform:scaleX(1.05);font-size:10.4px">FP64</span></div>
<div class="c ci" style="left:393px;top:752.9px;width:32px;height:26.8px;"></div>
<div class="t f10 cg" style="left:393px;top:753.0px;width:32px;height:26.8px"><span style="transform:scaleX(1.045);font-size:10px">INT32</span></div>
<div class="c ci" style="left:426px;top:752.9px;width:31px;height:26.8px;"></div>
<div class="t f10 cg" style="left:426px;top:753.0px;width:31px;height:26.8px"><span style="transform:scaleX(1.045);font-size:10px">INT32</span></div>
<div class="c cf" style="left:464px;top:752.9px;width:31px;height:26.8px;"></div>
<div class="t f10 cg" style="left:463.5px;top:752.6px;width:31px;height:26.8px"><span style="transform:scaleX(1.055);font-size:10.3px">FP32</span></div>
<div class="c cf" style="left:496px;top:752.9px;width:31px;height:26.8px;"></div>
<div class="t f10 cg" style="left:495.5px;top:752.6px;width:31px;height:26.8px"><span style="transform:scaleX(1.055);font-size:10.3px">FP32</span></div>
<div class="c cd" style="left:534px;top:752.9px;width:63px;height:26.8px;"></div>
<div class="t f10 cg" style="left:533.5px;top:753.1px;width:63px;height:26.8px"><span style="transform:scaleX(1.05);font-size:10.4px">FP64</span></div>
<div class="tc" style="left:603px;top:554.5px;width:137px;height:227px;"></div>
<div class="t f13 cg nst" style="left:603px;top:553.5px;width:137px;height:227px"><span style="transform:scaleX(1.05)">TENSOR CORE</span></div>
<div class="ls" style="left:393.5px;top:783.5px;width:32px;height:27px;"></div>
<div class="t f9 cp ls2" style="left:393.5px;top:783.5px;width:32px;height:27px"><span style="transform:scaleX(1.08)">LD/<br>ST</span></div>
<div class="ls" style="left:428.1px;top:783.5px;width:32px;height:27px;"></div>
<div class="t f9 cp ls2" style="left:428.1px;top:783.5px;width:32px;height:27px"><span style="transform:scaleX(1.08)">LD/<br>ST</span></div>
<div class="ls" style="left:462.7px;top:783.5px;width:32px;height:27px;"></div>
<div class="t f9 cp ls2" style="left:462.7px;top:783.5px;width:32px;height:27px"><span style="transform:scaleX(1.08)">LD/<br>ST</span></div>
<div class="ls" style="left:497.3px;top:783.5px;width:32px;height:27px;"></div>
<div class="t f9 cp ls2" style="left:497.3px;top:783.5px;width:32px;height:27px"><span style="transform:scaleX(1.08)">LD/<br>ST</span></div>
<div class="ls" style="left:531.9px;top:783.5px;width:32px;height:27px;"></div>
<div class="t f9 cp ls2" style="left:531.9px;top:783.5px;width:32px;height:27px"><span style="transform:scaleX(1.08)">LD/<br>ST</span></div>
<div class="ls" style="left:566.5px;top:783.5px;width:32px;height:27px;"></div>
<div class="t f9 cp ls2" style="left:566.5px;top:783.5px;width:32px;height:27px"><span style="transform:scaleX(1.08)">LD/<br>ST</span></div>
<div class="ls" style="left:601.1px;top:783.5px;width:32px;height:27px;"></div>
<div class="t f9 cp ls2" style="left:601.1px;top:783.5px;width:32px;height:27px"><span style="transform:scaleX(1.08)">LD/<br>ST</span></div>
<div class="ls" style="left:635.7px;top:783.5px;width:32px;height:27px;"></div>
<div class="t f9 cp ls2" style="left:635.7px;top:783.5px;width:32px;height:27px"><span style="transform:scaleX(1.08)">LD/<br>ST</span></div>
<div class="sfu" style="left:670.5px;top:783.5px;width:68px;height:27px;"></div>
<div class="sfl" style="left:705px;top:784.5px;width:1px;height:25px;"></div>
<div class="sfl" style="left:671.5px;top:796.5px;width:66px;height:1px;"></div>
<div class="t f13 cp" style="left:669.0px;top:783.5px;width:69px;height:27px"><span style="transform:scaleX(1.01);font-size:13.4px">SFU</span></div>
<div class="bar l1" style="left:8px;top:821px;width:744px;height:24px;"></div>
<div class="t f11 cw" style="left:6.5px;top:821px;width:744px;height:24px"><span style="transform:scaleX(1.145)">192KB L1 Data Cache / Shared Memory</span></div>
<div class="bar tx" style="left:8px;top:848px;width:179px;height:27px;"></div>
<div class="t f11 cw" style="left:8px;top:848px;width:179px;height:26px"><span style="transform:scaleX(1.16)">Tex</span></div>
<div class="bar tx" style="left:196px;top:848px;width:179px;height:27px;"></div>
<div class="t f11 cw" style="left:196px;top:848px;width:179px;height:26px"><span style="transform:scaleX(1.16)">Tex</span></div>
<div class="bar tx" style="left:384.5px;top:848px;width:179px;height:27px;"></div>
<div class="t f11 cw" style="left:384.5px;top:848px;width:179px;height:26px"><span style="transform:scaleX(1.16)">Tex</span></div>
<div class="bar tx" style="left:573px;top:848px;width:179px;height:27px;"></div>
<div class="t f11 cw" style="left:573px;top:848px;width:179px;height:26px"><span style="transform:scaleX(1.16)">Tex</span></div>
</div>
</body></html>
